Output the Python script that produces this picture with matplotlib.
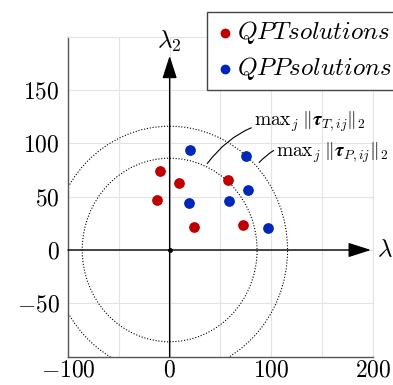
import numpy as np
import matplotlib
matplotlib.use("Agg")
import matplotlib.pyplot as plt
from matplotlib.patches import Circle

plt.rcParams['font.family'] = 'serif'
plt.rcParams['font.serif'] = ['cmr10', 'DejaVu Serif']
plt.rcParams['mathtext.fontset'] = 'cm'
plt.rcParams['axes.formatter.use_mathtext'] = True

# data
qpt_x = [-9, 9, -12, 57, 24, 72]
qpt_y = [74, 63, 47, 66, 22, 23]
qpp_x = [20, 75, 77, 19, 58, 97]
qpp_y = [94, 88, 56, 44, 46, 21]
radius_T = 86
radius_P = 116
ticks = [-100, 0, 100, 200]
yticks = [-50, 0, 50, 100, 150]

RED = '#c00000'
BLUE = '#0028b8'

fig = plt.figure(figsize=(3.93, 3.85), dpi=100)
ax = fig.add_axes([0.173, 0.0735, 0.776, 0.8315])
ax.set_xlim(-100, 200)
ax.set_ylim(-100, 200)
ax.set_xticks(ticks)
ax.set_xticks([-50, 50, 150], minor=True)
ax.set_yticks(yticks)
ax.grid(True, which='both', color='#e3e3e3', lw=0.8)
ax.set_axisbelow(True)
ax.tick_params(which='both', length=0, labelsize=17)
ax.tick_params(axis='x', pad=2)
ax.tick_params(axis='y', pad=6)
for s in ['top', 'right']:
    ax.spines[s].set_color('#e3e3e3')
for s in ['left', 'bottom']:
    ax.spines[s].set_color('#555555')
    ax.spines[s].set_linewidth(1.0)

# circles
for r in [radius_T, radius_P]:
    ax.add_patch(Circle((0, 0), r, fill=False, ls=(0, (1, 1.6)), lw=0.8, color='black'))

# axis arrows
ax.annotate('', xy=(198, 0), xytext=(-100, 0),
            arrowprops=dict(arrowstyle='-|>,head_length=1.4,head_width=0.45', color='black', lw=1.0,
                            shrinkA=0, shrinkB=0), annotation_clip=False)
ax.annotate('', xy=(0, 182), xytext=(0, -100),
            arrowprops=dict(arrowstyle='-|>,head_length=1.4,head_width=0.45', color='black', lw=1.0,
                            shrinkA=0, shrinkB=0), annotation_clip=False)
ax.plot([0], [0], 'o', color='black', ms=2.5)
ax.text(204, 0, r'$\lambda_1$', fontsize=18, va='center', ha='left', clip_on=False)
ax.text(0, 184, r'$\lambda_2$', fontsize=18, va='bottom', ha='center', clip_on=False)

ax.scatter(qpt_x, qpt_y, s=45, color=RED, zorder=3, label=r'$QPT solutions$')
ax.scatter(qpp_x, qpp_y, s=45, color=BLUE, zorder=3, label=r'$QPP solutions$')

ax.annotate(r'$\mathrm{max}_j\;\Vert\boldsymbol{\tau}_{T,ij}\Vert_2$', xy=(37, 81), xytext=(83, 120),
            fontsize=14, va='center', ha='left',
            arrowprops=dict(arrowstyle='-', color='black', lw=0.8, shrinkA=0, shrinkB=0,
                            connectionstyle='arc3,rad=0.3'), annotation_clip=False)
ax.annotate(r'$\mathrm{max}_j\;\Vert\boldsymbol{\tau}_{P,ij}\Vert_2$', xy=(88, 82), xytext=(105, 91),
            fontsize=14, va='center', ha='left',
            arrowprops=dict(arrowstyle='-', color='black', lw=0.8, shrinkA=0, shrinkB=0,
                            connectionstyle='arc3,rad=0.4'), annotation_clip=False)

leg = fig.legend(loc='upper left', bbox_to_anchor=(0.527, 0.969), fontsize=18, borderaxespad=0,
                 handletextpad=0.1, handlelength=0.8, borderpad=0.3, labelspacing=0.35,
                 fancybox=False, framealpha=1, edgecolor='#444444', markerscale=0.9)
leg.get_frame().set_linewidth(1.0)

fig.savefig('out.png', dpi=100)
